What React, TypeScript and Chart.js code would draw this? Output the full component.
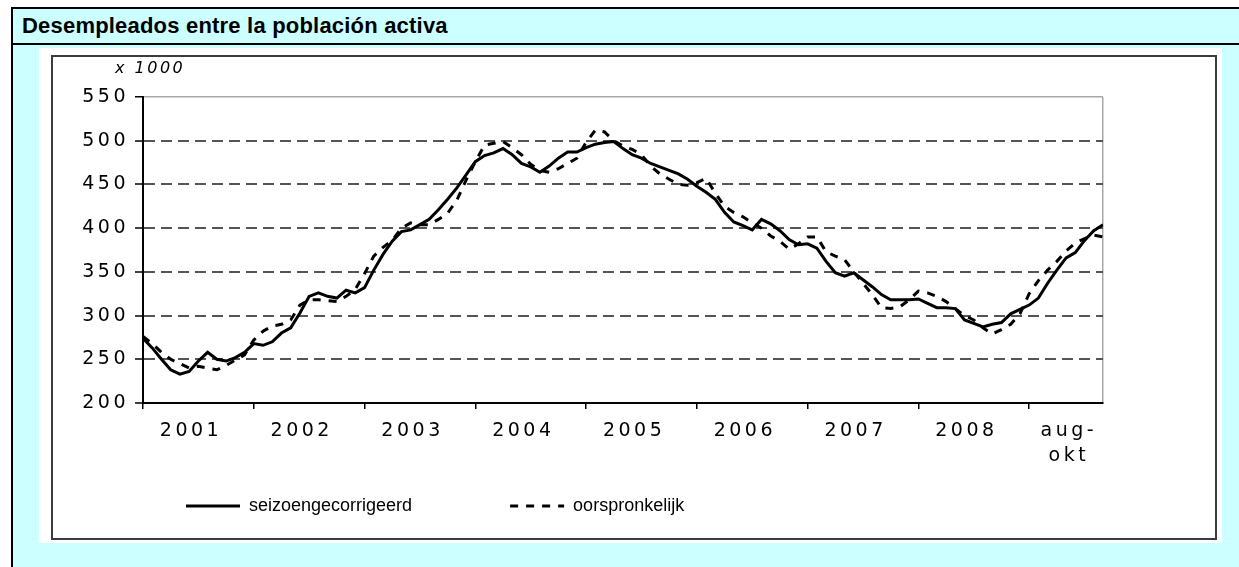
import React, { useEffect, useRef } from 'react';
import { Chart, registerables } from 'chart.js';

Chart.register(...registerables);

const TITLE = 'Desempleados entre la población activa';
const Y_UNIT = 'x 1000';
const SERIES_NAMES = ['seizoengecorrigeerd', 'oorspronkelijk'];
const YEAR_LABELS = ['2001', '2002', '2003', '2004', '2005', '2006', '2007', '2008'];
const LAST_LABEL = ['aug-', 'okt'];

// monthly values, Jan 2001 .. Sep 2009 (x 1000)
const SEASONALLY_ADJUSTED = [
  274, 263, 250, 238, 233, 236, 248, 258, 250, 248, 252, 258,
  268, 266, 270, 280, 286, 303, 322, 326, 322, 320, 329, 326,
  332, 352, 370, 385, 396, 398, 404, 410, 421, 433, 446, 461,
  476, 483, 486, 491, 484, 474, 470, 464, 471, 480, 487, 487,
  492, 496, 498, 499, 491, 484, 480, 474, 470, 466, 462, 456,
  448, 441, 433, 418, 407, 403, 398, 410, 405, 397, 387, 381,
  382, 377, 362, 349, 345, 349, 341, 333, 324, 318, 318, 318,
  319, 314, 309, 309, 308, 295, 291, 287, 290, 292, 302, 307,
  312, 320, 337, 352, 366, 372, 386, 397, 404,
];
const ORIGINAL = [
  276, 268, 258, 250, 245, 240, 242, 240, 238, 243, 249, 255,
  272, 282, 288, 290, 295, 312, 318, 318, 317, 316, 322, 330,
  348, 368, 378, 386, 400, 406, 404, 404, 410, 417, 432, 455,
  476, 495, 497, 499, 492, 484, 473, 466, 464, 468, 474, 480,
  498, 512, 510, 500, 494, 490, 484, 471, 462, 456, 450, 449,
  452, 457, 440, 425, 418, 413, 406, 400, 391, 385, 376, 382,
  390, 390, 373, 368, 364, 350, 337, 324, 309, 308, 310, 318,
  328, 326, 322, 316, 308, 300, 295, 286, 279, 284, 290, 302,
  325, 340, 352, 362, 374, 383, 388, 392, 390,
];

const Y_MIN = 200;
const Y_MAX = 550;
const Y_STEP = 50;
const MONTHS_PER_YEAR = 12;

const FONT = '"Liberation Sans", Arial, Helvetica, sans-serif';
const TICK_FONT = '"DejaVu Sans", Verdana, sans-serif';
const ORIGINAL_DASH = [8, 8];

export default function App() {
  const ref = useRef<HTMLCanvasElement>(null);

  useEffect(() => {
    const canvas = ref.current;
    if (!canvas) return;
    const lastIndex = SEASONALLY_ADJUSTED.length - 1;
    const yearStarts = YEAR_LABELS.map((_, k) => k * MONTHS_PER_YEAR);
    const finalStart = YEAR_LABELS.length * MONTHS_PER_YEAR;
    const boundaries = [...yearStarts, finalStart, lastIndex];
    const labelPos = [
      ...YEAR_LABELS.map((_, k) => k * MONTHS_PER_YEAR + 5.2),
      (finalStart + lastIndex) / 2 + 0.3,
    ];
    const labelText: (string | string[])[] = [...YEAR_LABELS, LAST_LABEL];

    const textPlugin = {
      id: 'textStyle',
      afterDatasetsDraw(chart: any) {
        chart.ctx.letterSpacing = '3.5px';
      },
      afterDraw(chart: any) {
        const ctx = chart.ctx;
        const a = chart.chartArea;
        ctx.save();
        ctx.letterSpacing = '2.5px';
        ctx.font = `italic 16px ${TICK_FONT}`;
        ctx.fillStyle = '#000';
        ctx.textAlign = 'left';
        ctx.textBaseline = 'alphabetic';
        ctx.fillText(Y_UNIT, a.left - 28, a.top - 24);
        ctx.restore();
        ctx.letterSpacing = '0px';
      },
    };

    const chart = new Chart(canvas, {
      type: 'line',
      data: {
        datasets: [
          {
            label: SERIES_NAMES[0],
            data: SEASONALLY_ADJUSTED.map((y, i) => ({ x: i, y })),
            borderColor: '#000',
            backgroundColor: '#000',
            borderWidth: 3,
            pointRadius: 0,
            pointStyle: 'line',
            tension: 0,
            fill: false,
            order: 0,
          },
          {
            label: SERIES_NAMES[1],
            data: ORIGINAL.map((y, i) => ({ x: i, y })),
            borderColor: '#000',
            backgroundColor: '#000',
            borderWidth: 3,
            borderDash: ORIGINAL_DASH,
            pointRadius: 0,
            pointStyle: 'line',
            tension: 0,
            fill: false,
            order: 1,
          },
        ],
      },
      options: {
        animation: false,
        responsive: false,
        maintainAspectRatio: false,
        events: [],
        layout: { padding: { left: 0, top: 40, right: 112, bottom: 13 } },
        scales: {
          x: {
            type: 'linear',
            position: 'bottom',
            weight: 0,
            min: 0,
            max: lastIndex,
            afterBuildTicks: (ax: any) => {
              ax.ticks = boundaries.map((v) => ({ value: v }));
            },
            afterFit: (ax: any) => {
              ax.height = 6;
            },
            ticks: { display: false },
            grid: {
              drawOnChartArea: true,
              drawTicks: true,
              tickLength: 6,
              lineWidth: 1.5,
              tickWidth: 1.5,
              tickBorderDash: [],
              color: (c: any) =>
                c.tick && c.tick.value === lastIndex ? '#a8a8a8' : 'rgba(0,0,0,0)',
              tickColor: (c: any) =>
                c.tick && c.tick.value === lastIndex ? 'rgba(0,0,0,0)' : '#000',
            },
            border: { display: true, color: '#000', width: 2 },
          },
          x2: {
            type: 'linear',
            axis: 'x',
            position: 'bottom',
            weight: 1,
            min: 0,
            max: lastIndex,
            afterBuildTicks: (ax: any) => {
              ax.ticks = labelPos.map((v) => ({ value: v }));
            },
            afterFit: (ax: any) => {
              ax.height = 45;
              // let the two-line last label extend below the axis box
              ax._computeLabelArea = () => undefined;
            },
            grid: { display: false, drawTicks: false },
            border: { display: false },
            ticks: {
              z: 1,
              padding: 9.5,
              autoSkip: false,
              maxRotation: 0,
              minRotation: 0,
              color: '#000',
              font: { family: TICK_FONT, size: 19, lineHeight: 1.32 },
              callback: (_v: any, i: number) => labelText[i],
            },
          },
          y: {
            type: 'linear',
            position: 'left',
            min: Y_MIN,
            max: Y_MAX,
            afterFit: (ax: any) => {
              ax.width = 90;
            },
            ticks: {
              stepSize: Y_STEP,
              z: 1,
              padding: 6,
              color: '#000',
              font: { family: TICK_FONT, size: 19 },
            },
            grid: {
              drawTicks: true,
              tickLength: 8,
              tickColor: '#000',
              tickWidth: 1.5,
              tickBorderDash: [],
              lineWidth: (c: any) => (c.tick && c.tick.value === Y_MAX ? 1.5 : 2),
              color: (c: any) => {
                const v = c.tick ? c.tick.value : null;
                if (v === Y_MAX) return '#a8a8a8';
                if (v === Y_MIN) return 'rgba(0,0,0,0)';
                return '#555555';
              },
            },
            border: {
              display: true,
              color: '#000',
              width: 2,
              dash: (c: any) => (c.tick && c.tick.value !== Y_MAX ? [11, 6] : []),
            },
          },
        },
        plugins: {
          legend: {
            display: true,
            position: 'bottom',
            align: 'start',
            fullSize: false,
            labels: {
              usePointStyle: true,
              pointStyleWidth: 54,
              padding: 43,
              color: '#000',
              font: { family: FONT, size: 18 },
              generateLabels: (ch: any) => {
                const items = (Chart.defaults as any).plugins.legend.labels.generateLabels(ch);
                items.forEach((it: any) => {
                  const ds = ch.data.datasets[it.datasetIndex];
                  it.lineWidth = ds.borderWidth;
                  it.lineDash = ds.borderDash || [];
                  it.strokeStyle = ds.borderColor;
                });
                if (items.length) items[0].text = items[0].text + '\u00a0'.repeat(11);
                return items;
              },
            },
          },
          title: { display: false },
          tooltip: { enabled: false },
        },
      } as any,
      plugins: [textPlugin],
    });

    return () => chart.destroy();
  }, []);

  return (
    <div
      style={{
        position: 'fixed',
        left: 0,
        top: 0,
        width: 1239,
        height: 567,
        background: '#ffffff',
        overflow: 'hidden',
        fontFamily: FONT,
      }}
    >
      {/* table body background */}
      <div style={{ position: 'absolute', left: 13, top: 9, right: 0, bottom: 0, background: '#ccffff' }} />
      {/* table borders */}
      <div style={{ position: 'absolute', left: 11, top: 7, right: 0, height: 2, background: '#000' }} />
      <div style={{ position: 'absolute', left: 11, top: 7, width: 2, bottom: 0, background: '#000' }} />
      <div style={{ position: 'absolute', left: 11, top: 43, right: 0, height: 2, background: '#000' }} />
      {/* title */}
      <div
        style={{
          position: 'absolute',
          left: 22,
          top: 15,
          fontSize: 22,
          lineHeight: '22px',
          fontWeight: 'bold',
          letterSpacing: '0.2px',
          color: '#000',
          whiteSpace: 'nowrap',
        }}
      >
        {TITLE}
      </div>
      {/* white picture box */}
      <div style={{ position: 'absolute', left: 39, top: 48, width: 1183, height: 495, background: '#fff' }}>
        <div
          style={{
            position: 'absolute',
            left: 12,
            top: 7,
            width: 1166,
            height: 485,
            border: '2px solid #3c3c3c',
            boxSizing: 'border-box',
          }}
        >
          <canvas
            ref={ref}
            width={1162}
            height={481}
            style={{ position: 'absolute', left: 0, top: 0, width: 1162, height: 481, display: 'block' }}
          />
        </div>
      </div>
    </div>
  );
}
